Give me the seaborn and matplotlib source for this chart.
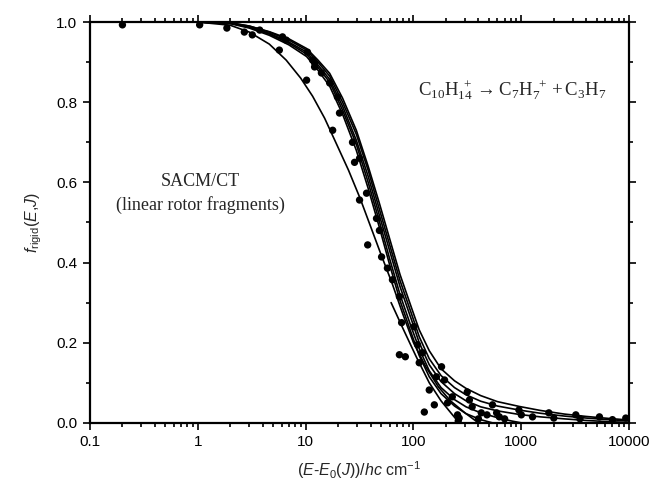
import numpy as np
import pandas as pd
import matplotlib
matplotlib.use('Agg')
import matplotlib.pyplot as plt
import matplotlib.ticker as mticker
import seaborn as sns

# SACM/CT model curves
curve1_x = [1, 2, 3, 4.6, 6.6, 9, 11.6, 15, 19, 25, 32, 40, 50, 63, 80, 100, 130, 170, 220, 300, 400]
curve1_y = [1.0, 0.992, 0.975, 0.945, 0.905, 0.86, 0.815, 0.76, 0.70, 0.63, 0.56, 0.49, 0.42, 0.35, 0.27, 0.20, 0.14, 0.09, 0.055, 0.025, 0.0]

curve2_x = [62, 80, 106, 140, 180, 230, 265]
curve2_y = [0.30, 0.235, 0.165, 0.10, 0.055, 0.02, 0.0]

curve3_x = [1, 2, 3, 4.6, 7, 10.2, 13, 16.7, 22, 29.5, 38, 48, 60, 75, 95, 113, 140, 180, 240, 307, 420, 540]
curve3_y = [1.0, 0.996, 0.985, 0.967, 0.943, 0.914, 0.88, 0.84, 0.77, 0.68, 0.585, 0.49, 0.395, 0.305, 0.225, 0.168, 0.115, 0.073, 0.042, 0.023, 0.008, 0.0]

curve4_x = [1, 2, 3, 4.6, 7, 10.2, 13, 16.7, 22, 29.5, 38, 48, 60, 75, 95, 113, 140, 180, 240, 307, 420, 600, 800, 1000]
curve4_y = [1.0, 0.997, 0.987, 0.97, 0.947, 0.92, 0.887, 0.85, 0.78, 0.695, 0.6, 0.505, 0.41, 0.32, 0.24, 0.185, 0.13, 0.088, 0.058, 0.04, 0.025, 0.013, 0.005, 0.0]

curve5_x = [1, 2, 3, 4.6, 7, 10.2, 13, 16.7, 22, 29.5, 38, 48, 60, 75, 95, 113, 140, 180, 240, 307, 420, 600, 955, 1500, 2500, 4000, 6500, 10000]
curve5_y = [1.0, 0.997, 0.988, 0.972, 0.95, 0.925, 0.893, 0.857, 0.79, 0.705, 0.615, 0.52, 0.43, 0.34, 0.26, 0.2, 0.145, 0.103, 0.073, 0.055, 0.04, 0.03, 0.021, 0.015, 0.01, 0.006, 0.003, 0.001]

curve6_x = curve5_x
curve6_y = [1.0, 0.998, 0.99, 0.975, 0.955, 0.93, 0.9, 0.865, 0.8, 0.72, 0.63, 0.535, 0.445, 0.355, 0.275, 0.215, 0.16, 0.118, 0.088, 0.07, 0.054, 0.042, 0.032, 0.024, 0.017, 0.012, 0.008, 0.005]

curve7_x = curve5_x
curve7_y = [1.0, 0.998, 0.99, 0.976, 0.958, 0.934, 0.905, 0.872, 0.81, 0.73, 0.64, 0.55, 0.46, 0.37, 0.29, 0.232, 0.18, 0.135, 0.105, 0.086, 0.068, 0.053, 0.041, 0.031, 0.022, 0.016, 0.011, 0.007]

# experimental points
dot_x = [0.2, 1.04, 1.86, 2.7, 3.2, 3.75, 5.7, 6.1, 6.6, 10.2, 10.4, 11.6, 12.1, 12.1, 14, 16.7,
         17.8, 19.7, 20.6, 27.2, 28.4, 31.6, 31.6, 36.7, 37.6, 45.4, 48.3, 50.6, 57.3, 63.8, 74,
         77.6, 74, 84, 101, 109, 121, 113, 140, 156, 126, 182, 163, 194, 207, 229, 256, 265, 315,
         330, 350, 425, 540, 590, 625, 950, 1000, 1270, 1800, 3200, 5300, 9300,
         260, 400, 480, 700, 2000, 3500, 7000]
dot_y = [0.993, 0.993, 0.985, 0.975, 0.968, 0.98, 0.93, 0.963, 0.955, 0.855, 0.925, 0.905, 0.888,
         0.898, 0.873, 0.848, 0.73, 0.813, 0.773, 0.70, 0.65, 0.66, 0.556, 0.573, 0.444, 0.51,
         0.48, 0.414, 0.386, 0.357, 0.315, 0.25, 0.17, 0.165, 0.24, 0.195, 0.175, 0.15, 0.082,
         0.045, 0.027, 0.14, 0.115, 0.107, 0.05, 0.065, 0.02, 0.012, 0.077, 0.057, 0.04, 0.025,
         0.045, 0.025, 0.015, 0.032, 0.02, 0.015, 0.025, 0.02, 0.015, 0.012,
         0.005, 0.01, 0.02, 0.01, 0.012, 0.01, 0.008]

curves = [(curve1_x, curve1_y), (curve2_x, curve2_y), (curve3_x, curve3_y),
          (curve4_x, curve4_y), (curve5_x, curve5_y), (curve6_x, curve6_y),
          (curve7_x, curve7_y)]

sns.set_style('ticks')
plt.rcParams['font.family'] = ['Liberation Sans', 'DejaVu Sans']
plt.rcParams['mathtext.fontset'] = 'custom'
plt.rcParams['mathtext.rm'] = 'Liberation Serif'
plt.rcParams['mathtext.it'] = 'Liberation Sans:italic'
plt.rcParams['mathtext.sf'] = 'Liberation Sans'

fig = plt.figure(figsize=(6.52, 4.9), dpi=100)
ax = fig.add_axes([0.138, 0.137, 0.827, 0.818])

for cx, cy in curves:
    sns.lineplot(x=cx, y=cy, ax=ax, color='black', lw=1.2, estimator=None, sort=False)

sns.scatterplot(x=dot_x, y=dot_y, ax=ax, color='black', s=28, edgecolor='none', zorder=3)

ax.set_xscale('log')
ax.set_xlim(0.1, 10000)
ax.set_ylim(0.0, 1.0)
ax.xaxis.set_major_locator(mticker.LogLocator(base=10))
ax.xaxis.set_minor_locator(mticker.LogLocator(base=10, subs=np.arange(2, 10)))
ax.xaxis.set_major_formatter(mticker.FuncFormatter(lambda v, p: '%g' % v))
ax.xaxis.set_minor_formatter(mticker.NullFormatter())
ax.yaxis.set_major_locator(mticker.MultipleLocator(0.2))
ax.yaxis.set_minor_locator(mticker.MultipleLocator(0.1))
ax.yaxis.set_major_formatter(mticker.FormatStrFormatter('%.1f'))

ax.tick_params(which='both', direction='out', top=True, right=True, width=1.2,
               labelsize=11, colors='black')
ax.tick_params(which='major', length=5, pad=4)
ax.tick_params(which='minor', length=3)
for sp in ax.spines.values():
    sp.set_linewidth(1.6)
    sp.set_color('black')

ax.set_xlabel(r'($E$-$E_{\mathsf{0}}$($J$))/$hc$ cm$^{\mathsf{-1}}$', fontsize=11.5, labelpad=7)
ax.set_ylabel(r'$f_{\mathsf{rigid}}$($E$,$J$)', fontsize=11.5, labelpad=9)

ax.text(0.205, 0.572, 'SACM/CT\n(linear rotor fragments)', transform=ax.transAxes,
        ha='center', va='center', fontsize=13, family='Liberation Serif', linespacing=1.4)
ax.text(0.783, 0.83, r'$\mathrm{C_{10}H_{14}^{\ +} \rightarrow C_7H_7^{\ +} + C_3H_7}$',
        transform=ax.transAxes, ha='center', va='center', fontsize=13.5)

fig.savefig('out.png', dpi=100)
